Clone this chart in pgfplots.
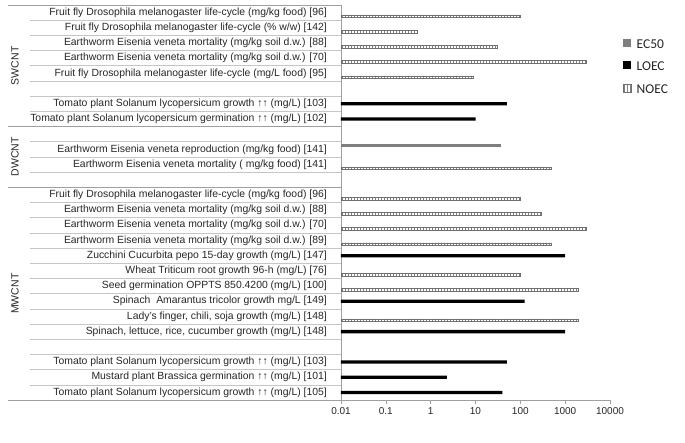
\documentclass[border=0pt]{standalone}
\usepackage{fontspec}
\setmainfont{Liberation Sans}
\newfontfamily\carlito{Carlito}
\usepackage{pgfplots}
\pgfplotsset{compat=1.18}
\usetikzlibrary{patterns}
\definecolor{noecborder}{HTML}{707070}
\definecolor{ecgray}{HTML}{7F7F7F}
\definecolor{txt}{HTML}{262626}
\begin{document}
\begin{tikzpicture}
\path[use as bounding box] (0,0) rectangle (685pt,442pt);
\begin{axis}[
  at={(341pt,42pt)}, anchor=south west,
  width=269pt, height=395pt, scale only axis,
  xmode=log, xmin=0.01, xmax=10000,
  log origin x=infty,
  ymin=0.5, ymax=26.5, y dir=reverse,
  xbar, bar width=3.3pt,
  axis x line*=bottom, axis y line*=left,
  axis line style={draw=gray!75, line width=0.6pt},
  xtick={0.01,0.1,1,10,100,1000,10000},
  xticklabels={0.01,0.1,1,10,100,1000,10000},
  xminorticks=false,
  tick align=outside, major tick length=4pt,
  xtick style={draw=gray!75, line width=0.6pt},
  ytick={1,...,26},
  ytick style={draw=none},
  yticklabels={
    Fruit fly Drosophila melanogaster life-cycle (mg/kg food) [96],
    Fruit fly Drosophila melanogaster life-cycle (\% w/w) [142],
    Earthworm Eisenia veneta mortality (mg/kg soil d.w.) [88],
    Earthworm Eisenia veneta mortality (mg/kg soil d.w.) [70],
    Fruit fly Drosophila melanogaster life-cycle (mg/L food) [95],
    {},
    Tomato plant Solanum lycopersicum growth ↑↑ (mg/L) [103],
    Tomato plant Solanum lycopersicum germination ↑↑ (mg/L) [102],
    {},
    Earthworm Eisenia veneta reproduction (mg/kg food) [141],
    Earthworm Eisenia veneta mortality ( mg/kg food) [141],
    {},
    Fruit fly Drosophila melanogaster life-cycle (mg/kg food) [96],
    Earthworm Eisenia veneta mortality (mg/kg soil d.w.) [88],
    Earthworm Eisenia veneta mortality (mg/kg soil d.w.) [70],
    Earthworm Eisenia veneta mortality (mg/kg soil d.w.) [89],
    Zucchini Cucurbita pepo 15-day growth (mg/L) [147],
    Wheat Triticum root growth 96-h (mg/L) [76],
    Seed germination OPPTS 850.4200 (mg/L) [100],
    Spinach\ \ Amarantus tricolor growth mg/L [149],
    {Lady's finger, chili, soja growth (mg/L) [148]},
    {Spinach, lettuce, rice, cucumber growth (mg/L) [148]},
    {},
    Tomato plant Solanum lycopersicum growth ↑↑ (mg/L) [103],
    Mustard plant Brassica germination ↑↑ (mg/L) [101],
    Tomato plant Solanum lycopersicum growth ↑↑ (mg/L) [105]
  },
  yticklabel style={font=\fontsize{10.4}{12}\selectfont, text=txt, inner sep=0pt, xshift=-10pt},
  xticklabel style={font=\fontsize{10}{12}\selectfont, text=txt},
  clip=false,
  legend style={draw=none, fill=none, inner sep=0pt,
    at={(axis description cs:1.0483,0.915)}, anchor=north west,
    font=\carlito\fontsize{13.5}{14}\selectfont, text=txt,
    row sep=13pt,
    /tikz/every odd column/.append style={column sep=5pt},
    nodes={inner sep=0pt, text height=9pt, text depth=0pt}},
  legend cell align=left,
]
\addplot[fill=ecgray, draw=none, bar shift=3.7pt, bar width=3pt,
  legend image code/.code={\fill[ecgray] (0pt,-3pt) rectangle (8pt,5pt);}]
  table {
x y
37 10
};
\addlegendentry{EC50}
\addplot[fill=black, draw=none, bar shift=0pt,
  legend image code/.code={\fill[black] (0pt,-3pt) rectangle (8pt,5pt);}]
  table {
x y
50 7
10 8
1000 17
125 20
1000 22
50 24
2.3 25
40 26
};
\addlegendentry{LOEC}
\addplot[fill=white, draw=noecborder, line width=0.5pt, bar shift=-3.7pt, bar width=2.6pt,
  postaction={pattern=vertical lines, pattern color=gray},
  legend image code/.code={\filldraw[fill=white, draw=noecborder, line width=0.5pt, postaction={pattern=vertical lines, pattern color=gray}] (0pt,-3pt) rectangle (8pt,5pt);}]
  table {
x y
100 1
0.5 2
30 3
3000 4
9 5
500 11
100 13
300 14
3000 15
500 16
100 18
2000 19
2000 21
};
\addlegendentry{NOEC}
\pgfplotsinvokeforeach{1.5,2.5,3.5,4.5,5.5,6.5,7.5,9.5,10.5,11.5,13.5,14.5,15.5,16.5,17.5,18.5,19.5,20.5,21.5,22.5,23.5,24.5,25.5}{
  \draw[gray!45, line width=0.6pt] (axis cs:0.01,#1) -- ++(-311pt,0pt);
}
\pgfplotsinvokeforeach{0.5,8.5,12.5,26.5}{
  \draw[gray!75, line width=0.6pt] (axis cs:0.01,#1) -- ++(-333pt,0pt);
}
\node[rotate=90, font=\fontsize{10.5}{12}\selectfont, text=txt] at ([xshift=-326pt]axis cs:0.01,4.5) {SWCNT};
\node[rotate=90, font=\fontsize{10.5}{12}\selectfont, text=txt] at ([xshift=-326pt]axis cs:0.01,10.5) {DWCNT};
\node[rotate=90, font=\fontsize{10.5}{12}\selectfont, text=txt] at ([xshift=-326pt]axis cs:0.01,19.5) {MWCNT};
\end{axis}
\end{tikzpicture}
\end{document}
